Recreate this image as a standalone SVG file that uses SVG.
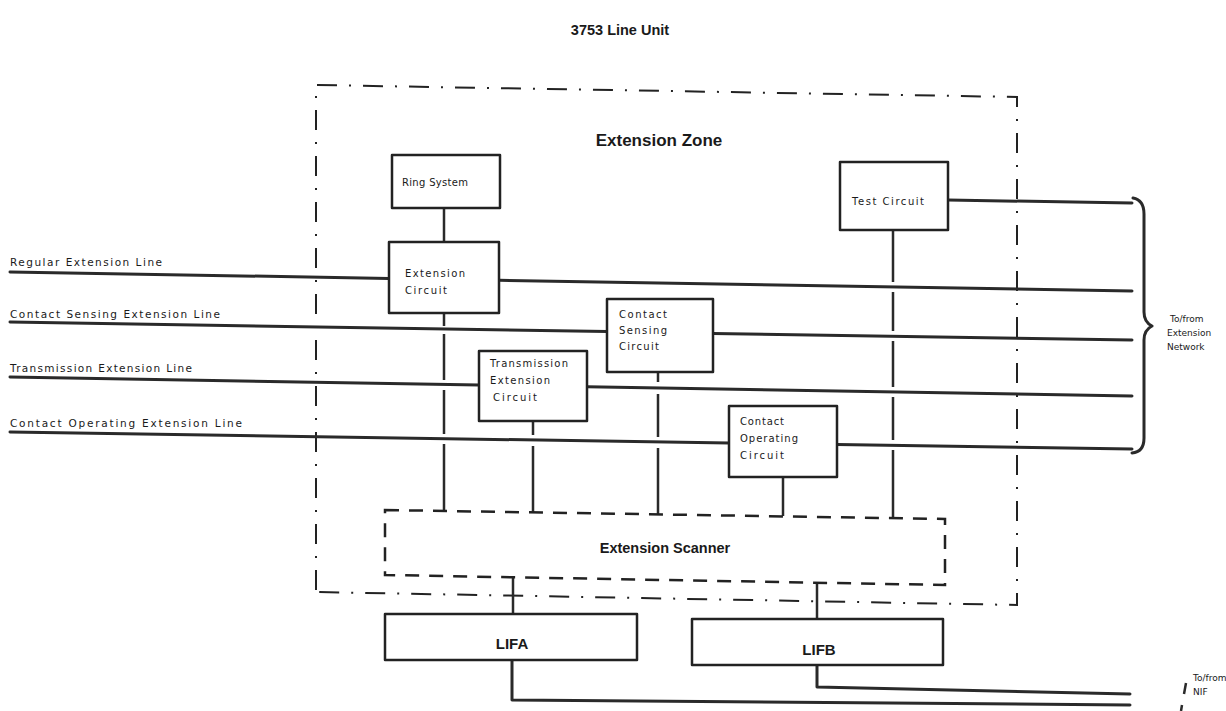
<svg xmlns="http://www.w3.org/2000/svg" width="1226" height="711" viewBox="0 0 1226 711">
<style>
.bg{fill:#fff}
.box{fill:#fff;stroke:#222;stroke-width:2.5;stroke-linejoin:round}
.ln{fill:none;stroke:#2a2a2a;stroke-width:3;stroke-linecap:round;stroke-linejoin:round}
.vl{fill:none;stroke:#2a2a2a;stroke-width:2.5;stroke-linecap:butt}
.zone{fill:none;stroke:#222;stroke-width:2;stroke-dasharray:20 12 2 12}
.scan{fill:none;stroke:#222;stroke-width:2.5;stroke-dasharray:14 10}
.t{font-family:"DejaVu Sans","Liberation Sans",sans-serif;fill:#1a1a1a;font-size:10px}
.lbl{font-family:"DejaVu Sans","Liberation Sans",sans-serif;fill:#1a1a1a;font-size:10.5px}
.s{font-family:"DejaVu Sans","Liberation Sans",sans-serif;fill:#1a1a1a;font-size:9px}
.h{font-family:"Liberation Sans",Arial,sans-serif;fill:#1a1a1a;font-weight:bold}
</style>
<rect class="bg" width="1226" height="711"/>
<text class="h" x="620" y="35" font-size="14.5" text-anchor="middle">3753 Line Unit</text>

<g id="extension-zone">
<path class="zone" d="M316,590 L316,85 L1017,97 L1017,605 L316,592"/>
<text class="h" x="659" y="146" font-size="17" text-anchor="middle">Extension Zone</text>
</g>

<g id="connectors">
<path class="ln" d="M10,272 L389,278.4"/>
<path class="ln" d="M499,280.3 L1132,291"/>
<path class="ln" d="M10,322 L607,331.6"/>
<path class="ln" d="M713,333.5 L1132,340"/>
<path class="ln" d="M10,377 L479,385"/>
<path class="ln" d="M587,386.8 L1132,396"/>
<path class="ln" d="M10,432 L729,443"/>
<path class="ln" d="M837,444.6 L1132,449"/>
<path class="ln" d="M948,200 L1132,203"/>
<path class="vl" d="M444,208 L444,242"/>
<path class="vl" d="M444,313 L444,326 M444,334 L444,380 M444,390 L444,434 M444,444 L444,511"/>
<path class="vl" d="M533,421 L533,435 M533,446 L533,512"/>
<path class="vl" d="M658,372 L658,382 M658,394 L658,437 M658,448 L658,514"/>
<path class="vl" d="M783,477 L783,516"/>
<path class="vl" d="M893,230 L893,282 M893,292 L893,331 M893,341 L893,387 M893,397 L893,440 M893,450 L893,518"/>
<path class="vl" d="M513,577 L513,614"/>
<path class="vl" d="M817,583 L817,619"/>
<path class="ln" d="M512,660 L512,700 L1130,705"/>
<path class="ln" d="M817,665 L817,687 L1130,694"/>
<path class="ln" d="M1133,198 Q1144,200 1144,214 L1144,312 Q1144,322 1152,326 Q1144,330 1144,340 L1144,438 Q1144,452 1132,453"/>
<path class="vl" d="M1186,683 L1184,694 M1182,705 L1181,711" stroke-width="2"/>
</g>

<g id="ring-system">
<rect class="box" x="392" y="155" width="108" height="53"/>
<text class="t" x="402" y="186" textLength="66">Ring System</text>
</g>

<g id="extension-circuit">
<rect class="box" x="389" y="242" width="110" height="71"/>
<text class="t" x="405" y="277" textLength="60">Extension</text>
<text class="t" x="405" y="294" textLength="42">Circuit</text>
</g>

<g id="contact-sensing-circuit">
<rect class="box" x="607" y="299" width="106" height="73"/>
<text class="t" x="619" y="318" textLength="48">Contact</text>
<text class="t" x="619" y="334" textLength="48">Sensing</text>
<text class="t" x="619" y="350" textLength="40">Circuit</text>
</g>

<g id="transmission-extension-circuit">
<rect class="box" x="479" y="351" width="108" height="70"/>
<text class="t" x="490" y="367" textLength="78">Transmission</text>
<text class="t" x="490" y="384" textLength="60">Extension</text>
<text class="t" x="493" y="401" textLength="44">Circuit</text>
</g>

<g id="contact-operating-circuit">
<rect class="box" x="729" y="406" width="108" height="71"/>
<text class="t" x="740" y="425" textLength="44">Contact</text>
<text class="t" x="740" y="442" textLength="58">Operating</text>
<text class="t" x="740" y="459" textLength="44">Circuit</text>
</g>

<g id="test-circuit">
<rect class="box" x="840" y="162" width="108" height="68"/>
<text class="t" x="852" y="205" textLength="72">Test Circuit</text>
</g>

<g id="extension-scanner">
<path class="scan" d="M385,510 L945,519 L945,585 L385,575 Z"/>
<text class="h" x="665" y="553" font-size="14.5" text-anchor="middle">Extension Scanner</text>
</g>

<g id="lifa">
<rect class="box" x="385" y="614" width="252" height="46"/>
<text class="h" x="512" y="649" font-size="15" text-anchor="middle">LIFA</text>
</g>

<g id="lifb">
<rect class="box" x="692" y="619" width="251" height="46"/>
<text class="h" x="819" y="655" font-size="15" text-anchor="middle">LIFB</text>
</g>

<g id="labels">
<text class="lbl" x="10" y="266" textLength="152">Regular Extension Line</text>
<text class="lbl" x="10" y="318" textLength="210">Contact Sensing Extension Line</text>
<text class="lbl" x="10" y="372" textLength="182">Transmission Extension Line</text>
<text class="lbl" x="10" y="427" textLength="232">Contact Operating Extension  Line</text>
<text class="s" x="1170" y="322">To/from</text>
<text class="s" x="1167" y="336">Extension</text>
<text class="s" x="1167" y="350">Network</text>
<text class="s" x="1193" y="681">To/from</text>
<text class="s" x="1193" y="695">NIF</text>
</g>
</svg>
